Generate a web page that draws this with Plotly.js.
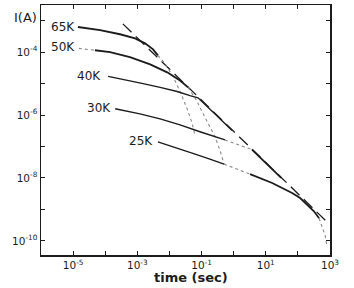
<!DOCTYPE html>
<html>
<head>
<meta charset="utf-8">
<script src="https://cdn.plot.ly/plotly-3.0.1.min.js"></script>
<style>
  html, body { margin: 0; padding: 0; background: #fff; }
  #chart { width: 354px; height: 288px; }
</style>
</head>
<body>
<div id="chart"></div>
<script>
// Values, as log10 exponents: time (s) and current (A)
// 65 K measured curve
const logT65 = [-4.85, -4.16, -3.54, -3.07, -2.76, -2.51, -2.36];
const logI65 = [-3.20, -3.30, -3.43, -3.56, -3.72, -3.91, -4.10];
// 65 K drop-off (dotted)
const logT65drop = [-2.36, -2.14, -1.89, -1.67, -1.45, -1.30, -1.20];
const logI65drop = [-4.10, -4.36, -4.77, -5.25, -5.80, -6.24, -6.66];
// 50 K leader (dotted) and measured curve
const logT50lead = [-4.82, -4.32];
const logI50lead = [-3.88, -3.94];
const logT50 = [-4.32, -3.85, -3.23, -2.60, -2.07, -1.67, -1.42];
const logI50 = [-3.94, -4.00, -4.16, -4.39, -4.64, -4.90, -5.12];
// 50 K drop-off (dotted)
const logT50drop = [-1.42, -1.17, -0.95, -0.77, -0.58, -0.42, -0.30];
const logI50drop = [-5.12, -5.51, -5.96, -6.31, -6.69, -7.14, -7.56];
// 40 K measured curve (joins the envelope)
const logT40 = [-3.91, -3.38, -2.82, -2.29, -1.76, -1.36, -1.11, -0.58, -0.05];
const logI40 = [-4.77, -4.87, -5.00, -5.12, -5.25, -5.38, -5.45, -5.97, -6.49];
// 30 K measured curve, connector (dotted) and continuation on envelope
const logT30 = [-3.69, -2.92, -2.29, -1.67, -1.05, -0.27];
const logI30 = [-5.80, -5.96, -6.12, -6.31, -6.53, -6.79];
const logT30link = [-0.27, 0.57];
const logI30link = [-6.79, -7.10];
const logT30env = [0.57, 1.48];
const logI30env = [-7.10, -8.00];
// 25 K measured curve, connector (dotted), long-time curve and tail (dotted)
const logT25 = [-2.36, -1.76, -1.20, -0.74, -0.30];
const logI25 = [-6.85, -7.04, -7.24, -7.40, -7.56];
const logT25link = [-0.30, 0.51];
const logI25link = [-7.56, -7.88];
const logT25long = [0.51, 0.88, 1.20, 1.51, 1.82, 2.07, 2.32, 2.50, 2.66];
const logI25long = [-7.88, -8.04, -8.16, -8.32, -8.48, -8.64, -8.87, -9.06, -9.28];
const logT25tail = [2.66, 2.72, 2.79, 2.85, 2.88, 2.91];
const logI25tail = [-9.28, -9.44, -9.64, -9.83, -10.02, -10.18];
// Common envelope (dashed, I ~ 1/t)
const logTenv = [-3.45, 2.95];
const logIenv = [-3.10, -9.44];

// Axis ticks
const xTickExp = [-6, -5, -4, -3, -2, -1, 0, 1, 2, 3];
const xTickText = ['', '10<sup>-5</sup>', '', '10<sup>-3</sup>', '', '10<sup>-1</sup>', '', '10<sup>1</sup>', '', '10<sup>3</sup>'];
const yTickExp = [-10, -9, -8, -7, -6, -5, -4, -3];
const yTickText = ['10<sup>-10</sup>', '', '10<sup>-8</sup>', '', '10<sup>-6</sup>', '', '10<sup>-4</sup>', ''];

// Curve labels
const curveLabels = ['65K', '50K', '40K', '30K', '25K'];

const p10 = a => a.map(v => Math.pow(10, v));

const INK = '#1c1c1c';
const DOT = '#8a8a8a';
function solid(lt, li, w) {
  return {x: p10(lt), y: p10(li), mode: 'lines', line: {color: INK, width: w}, hoverinfo: 'skip'};
}
function dotted(lt, li) {
  return {x: p10(lt), y: p10(li), mode: 'lines', line: {color: DOT, width: 1.1, dash: 'dot'}, hoverinfo: 'skip'};
}

const data = [
  {x: p10(logTenv), y: p10(logIenv), mode: 'lines', line: {color: INK, width: 1.3, dash: '12px,6px'}, hoverinfo: 'skip'},
  solid(logT65, logI65, 1.9),
  dotted(logT65drop, logI65drop),
  dotted(logT50lead, logI50lead),
  solid(logT50, logI50, 1.9),
  dotted(logT50drop, logI50drop),
  solid(logT40, logI40, 1.4),
  solid(logT30, logI30, 1.4),
  dotted(logT30link, logI30link),
  solid(logT30env, logI30env, 1.8),
  solid(logT25, logI25, 1.4),
  dotted(logT25link, logI25link),
  solid(logT25long, logI25long, 1.8),
  dotted(logT25tail, logI25tail)
];

const labelPos = [[0.125, 0.912], [0.125, 0.832], [0.2145, 0.716], [0.249, 0.588], [0.394, 0.456]];
const annotations = curveLabels.map((t, i) => ({
  text: t, xref: 'paper', yref: 'paper', x: labelPos[i][0], y: labelPos[i][1],
  xanchor: 'right', yanchor: 'middle', showarrow: false,
  font: {family: 'DejaVu Sans', size: 12, color: INK}
}));
annotations.push({
  text: 'I(A)', xref: 'paper', yref: 'paper', x: -0.1, y: 0.952,
  xanchor: 'left', yanchor: 'middle', showarrow: false,
  font: {family: 'DejaVu Sans', size: 13, color: INK}
});
annotations.push({
  text: '<b>time (sec)</b>', xref: 'paper', yref: 'paper', x: 0.519, y: -0.088,
  xanchor: 'center', yanchor: 'middle', showarrow: false,
  font: {family: 'DejaVu Sans', size: 13, color: INK}
});

const layout = {
  width: 354, height: 288,
  margin: {l: 41, r: 24, t: 5, b: 33},
  paper_bgcolor: '#fff', plot_bgcolor: '#fff',
  showlegend: false,
  font: {family: 'DejaVu Sans', size: 10, color: INK},
  xaxis: {
    type: 'log', range: [-6, 3],
    tickvals: p10(xTickExp), ticktext: xTickText,
    ticks: 'inside', ticklen: 4, tickwidth: 1, tickcolor: INK,
    showline: true, linecolor: INK, linewidth: 1.5, mirror: 'ticks',
    showgrid: false, zeroline: false,
    tickfont: {family: 'DejaVu Sans', size: 10.5, color: INK}
  },
  yaxis: {
    type: 'log', range: [-10.45, -2.5],
    tickvals: p10(yTickExp), ticktext: yTickText,
    ticks: 'inside', ticklen: 4, tickwidth: 1, tickcolor: INK,
    showline: true, linecolor: INK, linewidth: 1.5, mirror: 'ticks',
    showgrid: false, zeroline: false,
    tickfont: {family: 'DejaVu Sans', size: 10.5, color: INK}
  },
  annotations: annotations
};

Plotly.newPlot('chart', data, layout, {staticPlot: true, displayModeBar: false});
</script>
</body>
</html>
